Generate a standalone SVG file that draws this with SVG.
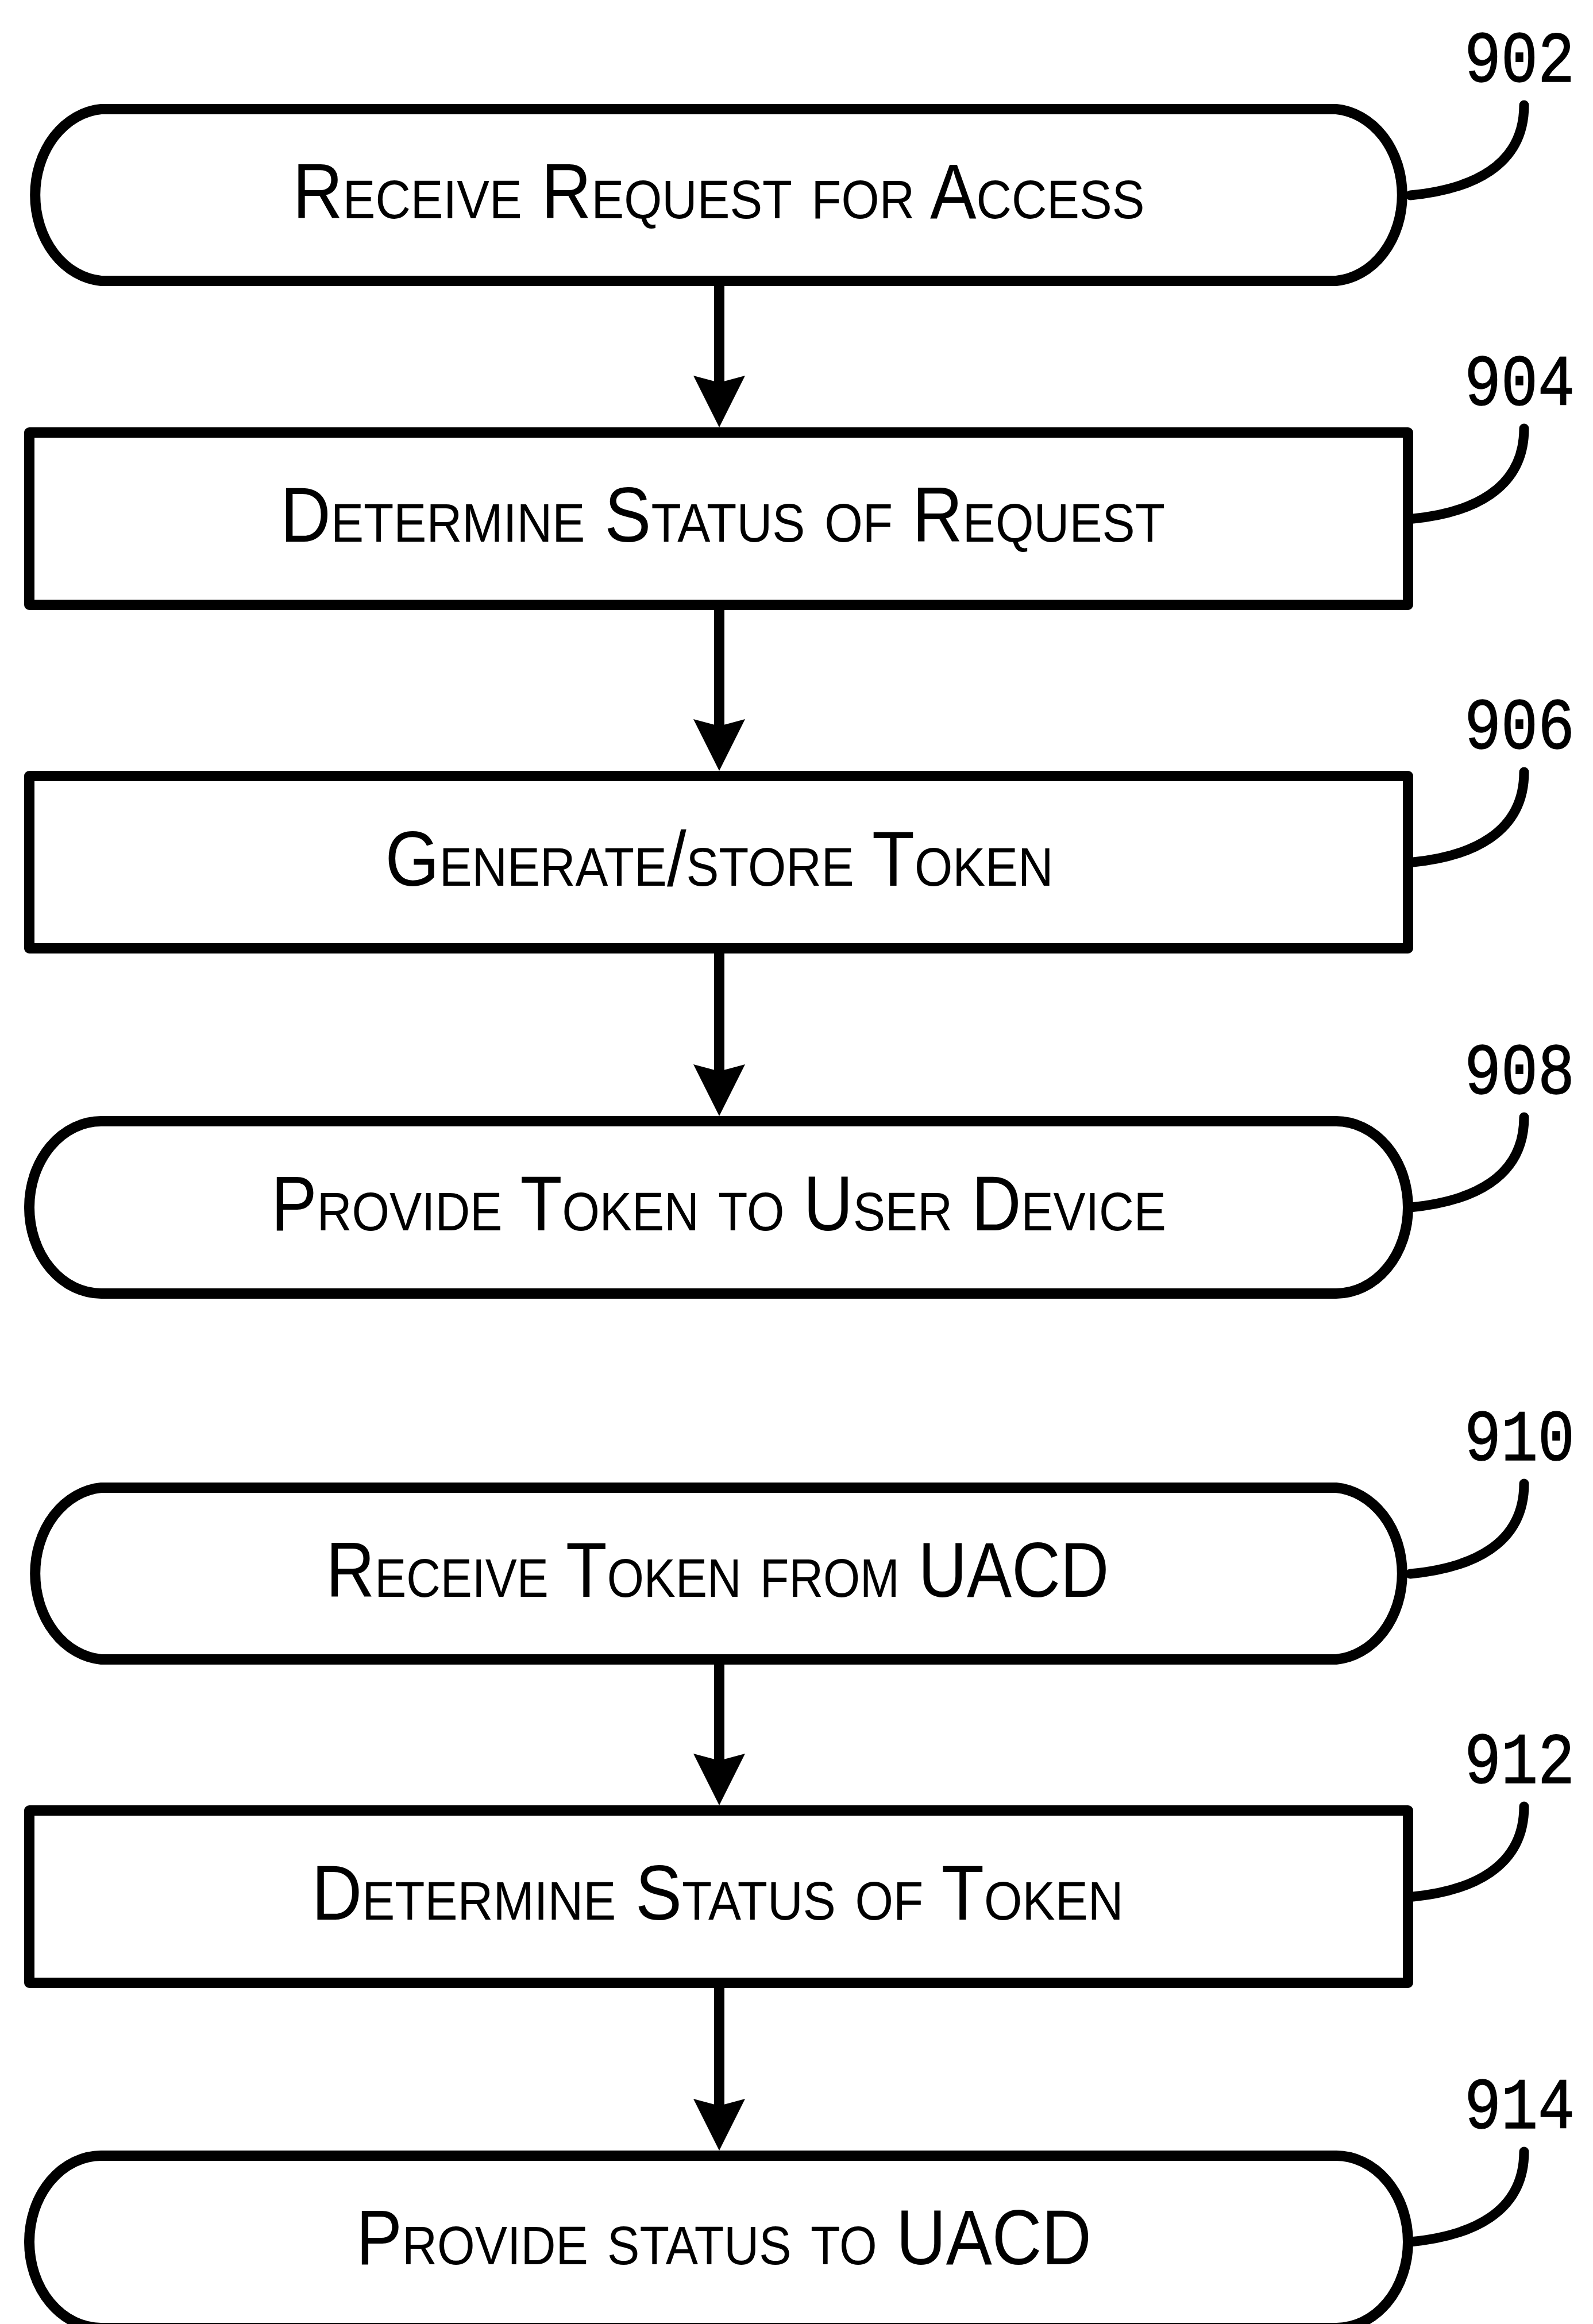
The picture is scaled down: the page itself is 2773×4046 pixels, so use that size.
<svg xmlns="http://www.w3.org/2000/svg" width="2773" height="4046" viewBox="0 0 2773 4046">
<style>
.node{fill:#fff;stroke:#000;stroke-width:18;stroke-linejoin:round}
.lbl{font-family:"Liberation Sans",Arial,sans-serif;font-size:135px;font-variant:small-caps;text-anchor:middle;fill:#000}
.ref{font-family:"Liberation Mono","Courier New",monospace;font-size:126px;text-anchor:middle;fill:#000;stroke:#000;stroke-width:1.5}
.lead{fill:none;stroke:#000;stroke-width:17;stroke-linecap:round}
.conn{fill:none;stroke:#000;stroke-width:18}
</style>
<defs>
<marker id="ah" viewBox="0 0 90 90" markerWidth="90" markerHeight="90" markerUnits="userSpaceOnUse" orient="auto" refX="15" refY="45">
<path d="M0,0 L90,45 L0,90 L12,45 Z" fill="#000"/>
</marker>
</defs>
<rect width="2773" height="4046" fill="#fff"/>

<g id="n902">
<path class="node" d="M176,190 H2326 A125,150 0 0 1 2326,489 H176 A125,150 0 0 1 176,190 Z"/>
<text class="lbl" x="1251" y="380" textLength="1483" lengthAdjust="spacingAndGlyphs">Receive Request for Access</text>
<path class="lead" d="M2455,340 C2560,330 2653,290 2653,183"/>
<text class="ref" x="2645" y="142" textLength="192" lengthAdjust="spacingAndGlyphs">902</text>
</g>

<g id="n904">
<rect class="node" x="51" y="753" width="2400" height="300" stroke-linejoin="miter"/>
<text class="lbl" x="1258" y="943" textLength="1540" lengthAdjust="spacingAndGlyphs">Determine Status of Request</text>
<path class="lead" d="M2460,903 C2560,893 2653,853 2653,746"/>
<text class="ref" x="2645" y="705" textLength="192" lengthAdjust="spacingAndGlyphs">904</text>
</g>

<g id="n906">
<rect class="node" x="51" y="1351" width="2400" height="300" stroke-linejoin="miter"/>
<text class="lbl" x="1252" y="1542" textLength="1163" lengthAdjust="spacingAndGlyphs">Generate/store Token</text>
<path class="lead" d="M2460,1501 C2560,1491 2653,1451 2653,1344"/>
<text class="ref" x="2645" y="1303" textLength="192" lengthAdjust="spacingAndGlyphs">906</text>
</g>

<g id="n908">
<path class="node" d="M176,1952 H2326 A125,150 0 0 1 2326,2252 H176 A125,150 0 0 1 176,1952 Z"/>
<text class="lbl" x="1251" y="2142" textLength="1558" lengthAdjust="spacingAndGlyphs">Provide Token to User Device</text>
<path class="lead" d="M2455,2102 C2560,2092 2653,2052 2653,1945"/>
<text class="ref" x="2645" y="1904" textLength="192" lengthAdjust="spacingAndGlyphs">908</text>
</g>

<g id="n910">
<path class="node" d="M176,2590 H2326 A125,150 0 0 1 2326,2889 H176 A125,150 0 0 1 176,2590 Z"/>
<text class="lbl" x="1249" y="2780" textLength="1363" lengthAdjust="spacingAndGlyphs">Receive Token from UACD</text>
<path class="lead" d="M2455,2740 C2560,2730 2653,2690 2653,2583"/>
<text class="ref" x="2645" y="2542" textLength="192" lengthAdjust="spacingAndGlyphs">910</text>
</g>

<g id="n912">
<rect class="node" x="51" y="3152" width="2400" height="300" stroke-linejoin="miter"/>
<text class="lbl" x="1249" y="3342" textLength="1413" lengthAdjust="spacingAndGlyphs">Determine Status of Token</text>
<path class="lead" d="M2460,3302 C2560,3292 2653,3252 2653,3145"/>
<text class="ref" x="2645" y="3104" textLength="192" lengthAdjust="spacingAndGlyphs">912</text>
</g>

<g id="n914">
<path class="node" d="M176,3753 H2326 A125,150 0 0 1 2326,4053 H176 A125,150 0 0 1 176,3753 Z"/>
<text class="lbl" x="1260" y="3942" textLength="1280" lengthAdjust="spacingAndGlyphs">Provide status to UACD</text>
<path class="lead" d="M2455,3903 C2560,3893 2653,3853 2653,3746"/>
<text class="ref" x="2645" y="3705" textLength="192" lengthAdjust="spacingAndGlyphs">914</text>
</g>

<g id="connectors">
<path class="conn" d="M1252,498 V669" marker-end="url(#ah)"/>
<path class="conn" d="M1252,1062 V1267" marker-end="url(#ah)"/>
<path class="conn" d="M1252,1660 V1868" marker-end="url(#ah)"/>
<path class="conn" d="M1252,2898 V3068" marker-end="url(#ah)"/>
<path class="conn" d="M1252,3461 V3669" marker-end="url(#ah)"/>
</g>
</svg>
